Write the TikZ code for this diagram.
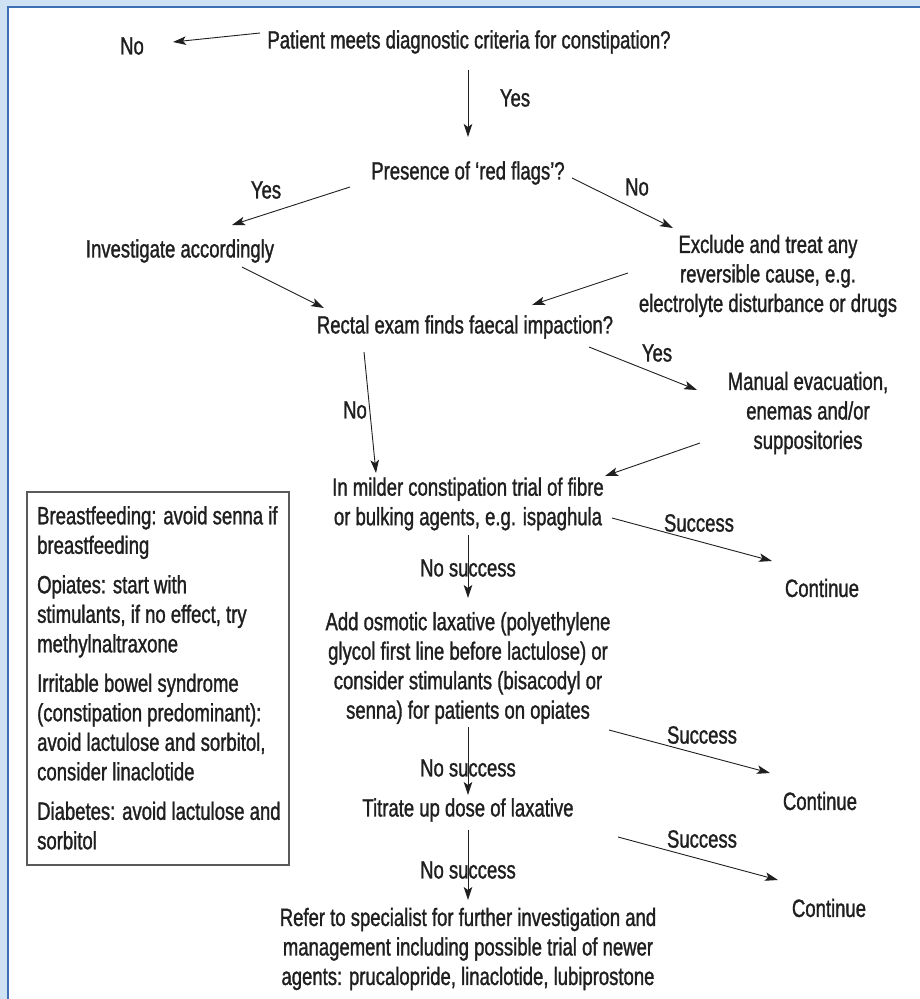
\documentclass[tikz,border=0pt]{standalone}
\usepackage{fontspec}
\setmainfont{Liberation Sans}[FakeStretch=0.74,FakeBold=1.2]
\usetikzlibrary{arrows.meta,calc}
\definecolor{bandblue}{RGB}{207,226,243}
\definecolor{lineblue}{RGB}{62,110,180}
\definecolor{boxgray}{RGB}{90,90,90}
\tikzset{
  txt/.style={font=\fontsize{25}{29.5}\selectfont, align=center, inner sep=0pt, text=black!88},
  arr/.style={-{Stealth[length=13pt,width=8.5pt,inset=3pt]}, line width=0.9pt, black!88},
  notebox/.style={draw=boxgray, line width=1.2pt, minimum width=262pt, minimum height=373pt, inner sep=0pt}
}
\begin{document}
\begin{tikzpicture}[x=1pt,y=-1pt]
\useasboundingbox (0,0) rectangle (920,999);
\fill[bandblue] (0,0) rectangle (920,999);
\fill[white] (8,7) rectangle (920,999);
\draw[lineblue, line width=2pt] (8,999) -- (8,7) -- (920,7);

% nodes
\node[txt] (q1) at (469,42) {Patient meets diagnostic criteria for constipation?};
\node[txt] (no1) at (132,46) {No};
\node[txt] (y1) at (515,98) {Yes};
\node[txt] (q2) at (468,173) {Presence of ‘red flags’?};
\node[txt] (yes2) at (266,190) {Yes};
\node[txt] (no2) at (637,187) {No};
\node[txt] (inv) at (180,251) {Investigate accordingly};
\node[txt] (excl) at (768,276) {Exclude and treat any\\ reversible cause, e.g.\\ electrolyte disturbance or drugs};
\node[txt] (rect) at (465,327) {Rectal exam finds faecal impaction?};
\node[txt] (yes3) at (657,353) {Yes};
\node[txt] (no3) at (355,410) {No};
\node[txt] (man) at (808,413) {Manual evacuation,\\ enemas and/or\\ suppositories};
\node[txt] (mid) at (468,504) {In milder constipation trial of fibre\\ or bulking agents, e.g. ispaghula};
\node[txt] (succ1) at (699,523) {Success};
\node[txt] (cont1) at (822,588) {Continue};
\node[txt] (ns1) at (468,568) {No success};
\node[txt] (add) at (468,668) {Add osmotic laxative (polyethylene\\ glycol first line before lactulose) or\\ consider stimulants (bisacodyl or\\ senna) for patients on opiates};
\node[txt] (succ2) at (702,735) {Success};
\node[txt] (cont2) at (820,801) {Continue};
\node[txt] (ns2) at (468,768) {No success};
\node[txt] (tit) at (468,810) {Titrate up dose of laxative};
\node[txt] (succ3) at (702,839) {Success};
\node[txt] (cont3) at (829,908) {Continue};
\node[txt] (ns3) at (468,870) {No success};
\node[txt] (ref) at (468,949) {Refer to specialist for further investigation and\\ management including possible trial of newer\\ agents: prucalopride, linaclotide, lubiprostone};

% notes box
\node[notebox] (notes) at (158,678.5) {};
\node[txt, align=left, anchor=north west] (notestext) at (37,506)
 {Breastfeeding: avoid senna if\\ breastfeeding\\[10pt]
  Opiates: start with\\ stimulants, if no effect, try\\ methylnaltraxone\\[10pt]
  Irritable bowel syndrome\\ (constipation predominant):\\ avoid lactulose and sorbitol,\\ consider linaclotide\\[10pt]
  Diabetes: avoid lactulose and\\ sorbitol};

% connectors
\draw[arr] ([shift={(-209,-9)}]q1.center) -- ([shift={(41,-4)}]no1.center);
\draw[arr] ([shift={(-1,28)}]q1.center) -- ([shift={(0,-36)}]q2.center);
\draw[arr] ([shift={(-118,14)}]q2.center) -- ([shift={(52,-26)}]inv.center);
\draw[arr] ([shift={(104,5)}]q2.center) -- ([shift={(-95,-48)}]excl.center);
\draw[arr] ([shift={(62,16)}]inv.center) -- ([shift={(-141,-19)}]rect.center);
\draw[arr] ([shift={(-140,-3)}]excl.center) -- ([shift={(67,-22)}]rect.center);
\draw[arr] ([shift={(-101,25)}]rect.center) -- ([shift={(-92,-31)}]mid.center);
\draw[arr] ([shift={(124,20)}]rect.center) -- ([shift={(-111,-23)}]man.center);
\draw[arr] ([shift={(-108,30)}]man.center) -- ([shift={(137,-28)}]mid.center);
\draw[arr] ([shift={(144,14)}]mid.center) -- ([shift={(-50,-27)}]cont1.center);
\draw[arr] ([shift={(0,31)}]mid.center) -- ([shift={(0,-70)}]add.center);
\draw[arr] ([shift={(141,62)}]add.center) -- ([shift={(-50,-28)}]cont2.center);
\draw[arr] ([shift={(0,59)}]add.center) -- ([shift={(0,-15)}]tit.center);
\draw[arr] ([shift={(150,27)}]tit.center) -- ([shift={(-51,-28)}]cont3.center);
\draw[arr] ([shift={(0,20)}]tit.center) -- ([shift={(0,-49)}]ref.center);
\end{tikzpicture}
\end{document}
